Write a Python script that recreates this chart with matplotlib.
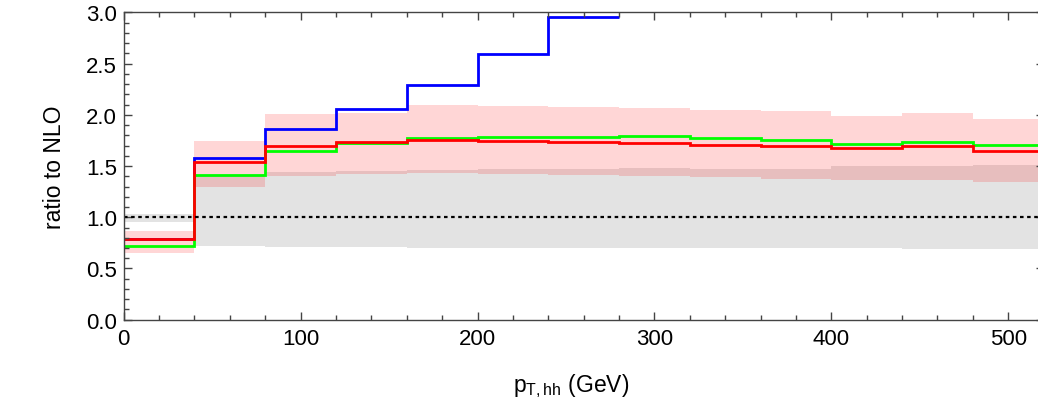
import numpy as np
import matplotlib
matplotlib.use("Agg")
import matplotlib.pyplot as plt
from matplotlib.ticker import MultipleLocator

plt.rcParams['font.family'] = ['Liberation Sans', 'DejaVu Sans']
plt.rcParams['mathtext.fontset'] = 'custom'
plt.rcParams['mathtext.rm'] = 'Liberation Sans'
plt.rcParams['mathtext.it'] = 'Liberation Sans'

# pT bin edges (GeV), 40 GeV wide
edges = np.arange(0, 521, 40)
edges_blue = edges[:8]

# ratios to NLO per bin
blue = [0.79, 1.58, 1.86, 2.06, 2.29, 2.595, 2.953]
red = [0.785, 1.54, 1.70, 1.738, 1.75, 1.742, 1.732, 1.73, 1.709, 1.70, 1.678, 1.70, 1.65]
green = [0.72, 1.41, 1.65, 1.726, 1.776, 1.785, 1.787, 1.793, 1.77, 1.758, 1.72, 1.732, 1.706]

# scale uncertainty bands
pink_lo = [0.648, 1.30, 1.406, 1.42, 1.43, 1.42, 1.41, 1.406, 1.39, 1.374, 1.364, 1.36, 1.342]
pink_hi = [0.87, 1.745, 2.01, 2.015, 2.095, 2.09, 2.08, 2.07, 2.05, 2.035, 1.99, 2.02, 1.955]
gray_lo = [0.95, 0.72, 0.713, 0.71, 0.705, 0.70, 0.70, 0.70, 0.70, 0.70, 0.70, 0.695, 0.69]
gray_hi = [1.03, 1.40, 1.44, 1.45, 1.46, 1.47, 1.47, 1.48, 1.47, 1.47, 1.50, 1.50, 1.51]

fig = plt.figure(figsize=(10.38, 4.06), dpi=100)
ax = fig.add_axes([0.1192, 0.2101, 0.8862, 0.7567])

ax.stairs(gray_hi, edges, baseline=gray_lo, fill=True, color='#e3e3e3', lw=0)
ax.stairs(pink_hi, edges, baseline=pink_lo, fill=True, color='red', alpha=0.16, lw=0)

ax.axhline(1.0, color='black', lw=1.6, ls=(0, (1.6, 1.6)))

ax.stairs(blue, edges_blue, baseline=None, color='#0000ff', lw=2.0)
ax.stairs(green, edges, baseline=None, color='#00ff00', lw=2.0)
ax.stairs(red, edges, baseline=None, color='#ff0000', lw=2.0)

ax.set_xlim(0, 520)
ax.set_ylim(0, 3.0)

ax.xaxis.set_major_locator(MultipleLocator(100))
ax.xaxis.set_minor_locator(MultipleLocator(20))
ax.yaxis.set_major_locator(MultipleLocator(0.5))
ax.yaxis.set_minor_locator(MultipleLocator(0.1))
ax.yaxis.set_major_formatter(matplotlib.ticker.FormatStrFormatter('%.1f'))

ax.tick_params(which='both', direction='in', top=True, right=True,
               color='#444444', labelsize=16)
ax.tick_params(axis='x', pad=6)
ax.tick_params(axis='y', pad=5)
ax.tick_params(which='major', length=6, width=1)
ax.tick_params(which='minor', length=3.5, width=1)
for sp in ax.spines.values():
    sp.set_color('#444444')
    sp.set_linewidth(1)

ax.set_ylabel('ratio to NLO', fontsize=16.5, labelpad=14)
ax.set_xlabel(r'$\mathdefault{p_{T,hh}}$ (GeV)', fontsize=16.5, labelpad=16)
ax.xaxis.label.set_x(0.486)

fig.savefig('out.png', dpi=100)
